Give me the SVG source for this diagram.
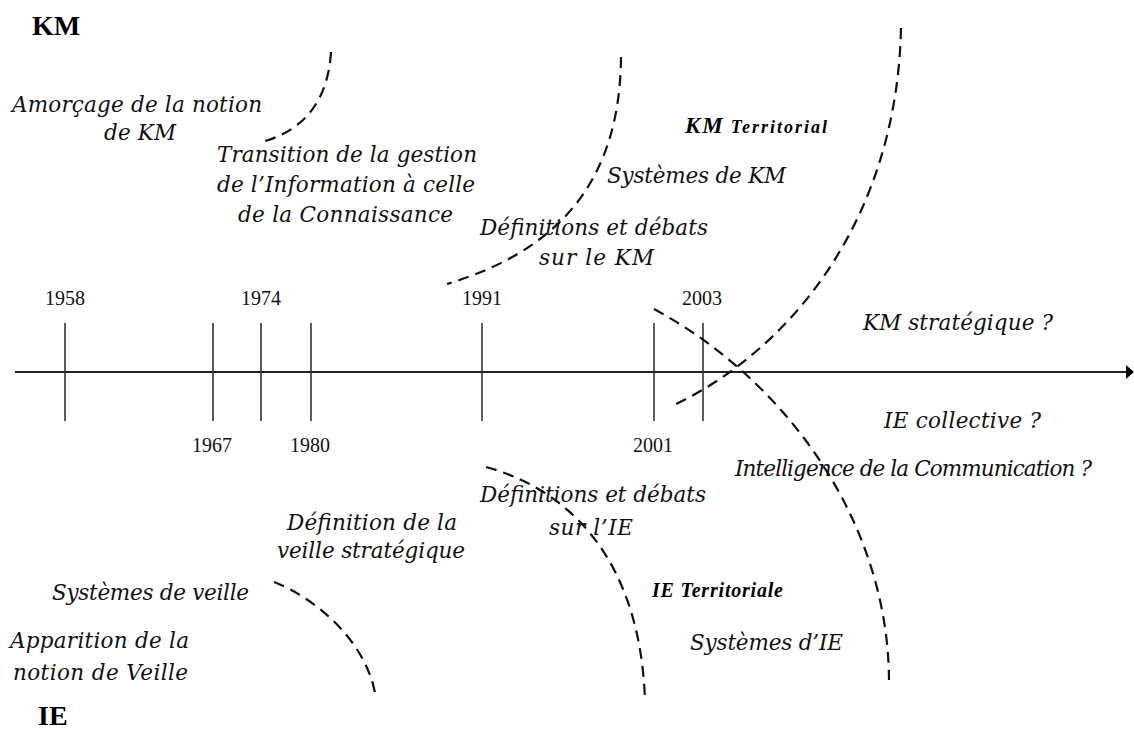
<svg xmlns="http://www.w3.org/2000/svg" width="1134" height="731" viewBox="0 0 1134 731">
<defs>
<style>
.it{font-family:"DejaVu Serif","Liberation Serif",serif;font-style:italic;font-size:21.5px;fill:#111}
.yr{font-family:"Liberation Serif",serif;font-size:20px;fill:#111;text-anchor:middle}
.hd{font-family:"Liberation Serif",serif;font-weight:bold;font-size:28px;fill:#000}
.bi{font-family:"Liberation Serif",serif;font-weight:bold;font-style:italic;fill:#000}
.tick{stroke:#333;stroke-width:1.6}
.dash{fill:none;stroke:#111;stroke-width:2.2;stroke-dasharray:11 7}
</style>
<marker id="arr" markerUnits="userSpaceOnUse" markerWidth="10" markerHeight="16" refX="0" refY="8" orient="auto">
<polygon points="0,1 8,8 0,15" fill="#000"/>
</marker>
</defs>
<rect width="1134" height="731" fill="#fff"/>

<g id="axis">
<line x1="15" y1="372" x2="1126" y2="372" stroke="#222" stroke-width="2" marker-end="url(#arr)"/>
<line class="tick" x1="65" y1="323" x2="65" y2="421"/>
<line class="tick" x1="213" y1="323" x2="213" y2="421"/>
<line class="tick" x1="261" y1="323" x2="261" y2="421"/>
<line class="tick" x1="311" y1="323" x2="311" y2="421"/>
<line class="tick" x1="482" y1="323" x2="482" y2="421"/>
<line class="tick" x1="654" y1="323" x2="654" y2="421"/>
<line class="tick" x1="703" y1="323" x2="703" y2="421"/>
</g>

<g id="years">
<text class="yr" x="65" y="305">1958</text>
<text class="yr" x="261" y="305">1974</text>
<text class="yr" x="482" y="305">1991</text>
<text class="yr" x="702" y="305">2003</text>
<text class="yr" x="212" y="452">1967</text>
<text class="yr" x="310" y="452">1980</text>
<text class="yr" x="653" y="452">2001</text>
</g>

<g id="connectors">
<path class="dash" d="M331,52 C328,100 305,130 262,142"/>
<path class="dash" d="M621,57 C620,180 560,250 447,284"/>
<path class="dash" d="M901,28 C897,220 790,350 674,405"/>
<path class="dash" d="M654,309 C785,380 888,520 889,680"/>
<path class="dash" d="M486,467 C570,490 640,560 645,700"/>
<path class="dash" d="M274,582 C315,598 365,640 375,693"/>
</g>

<g id="headers">
<text class="hd" x="32" y="35">KM</text>
<text class="hd" x="38" y="725">IE</text>
</g>

<g id="km-labels">
<text class="it" x="12" y="112" textLength="250">Amorçage de la notion</text>
<text class="it" x="104" y="140" textLength="72">de KM</text>
<text class="it" x="217" y="162" textLength="260">Transition de la gestion</text>
<text class="it" x="217" y="192" textLength="258">de l’Information à celle</text>
<text class="it" x="238" y="222" textLength="215">de la Connaissance</text>
<text class="it" x="607" y="183" textLength="179">Systèmes de KM</text>
<text class="it" x="480" y="235" textLength="228">Définitions et débats</text>
<text class="it" x="539" y="265" textLength="115">sur le KM</text>
<text class="bi" x="685" y="133" textLength="142"><tspan font-size="23">KM</tspan> <tspan font-size="18">Territorial</tspan></text>
<text class="it" x="863" y="330" textLength="190">KM stratégique ?</text>
</g>

<g id="ie-labels">
<text class="it" x="884" y="428" textLength="157">IE collective ?</text>
<text class="it" x="735" y="476" textLength="357">Intelligence de la Communication  ?</text>
<text class="it" x="480" y="502" textLength="226">Définitions et débats</text>
<text class="it" x="549" y="535" textLength="84">sur l’IE</text>
<text class="it" x="287" y="530" textLength="170">Définition de la</text>
<text class="it" x="277" y="558" textLength="188">veille stratégique</text>
<text class="it" x="52" y="600" textLength="197">Systèmes de veille</text>
<text class="it" x="10" y="648" textLength="179">Apparition de la</text>
<text class="it" x="13" y="680" textLength="175">notion de Veille</text>
<text class="bi" x="652" y="597" font-size="20" textLength="131">IE Territoriale</text>
<text class="it" x="690" y="650" textLength="153">Systèmes d’IE</text>
</g>
</svg>
